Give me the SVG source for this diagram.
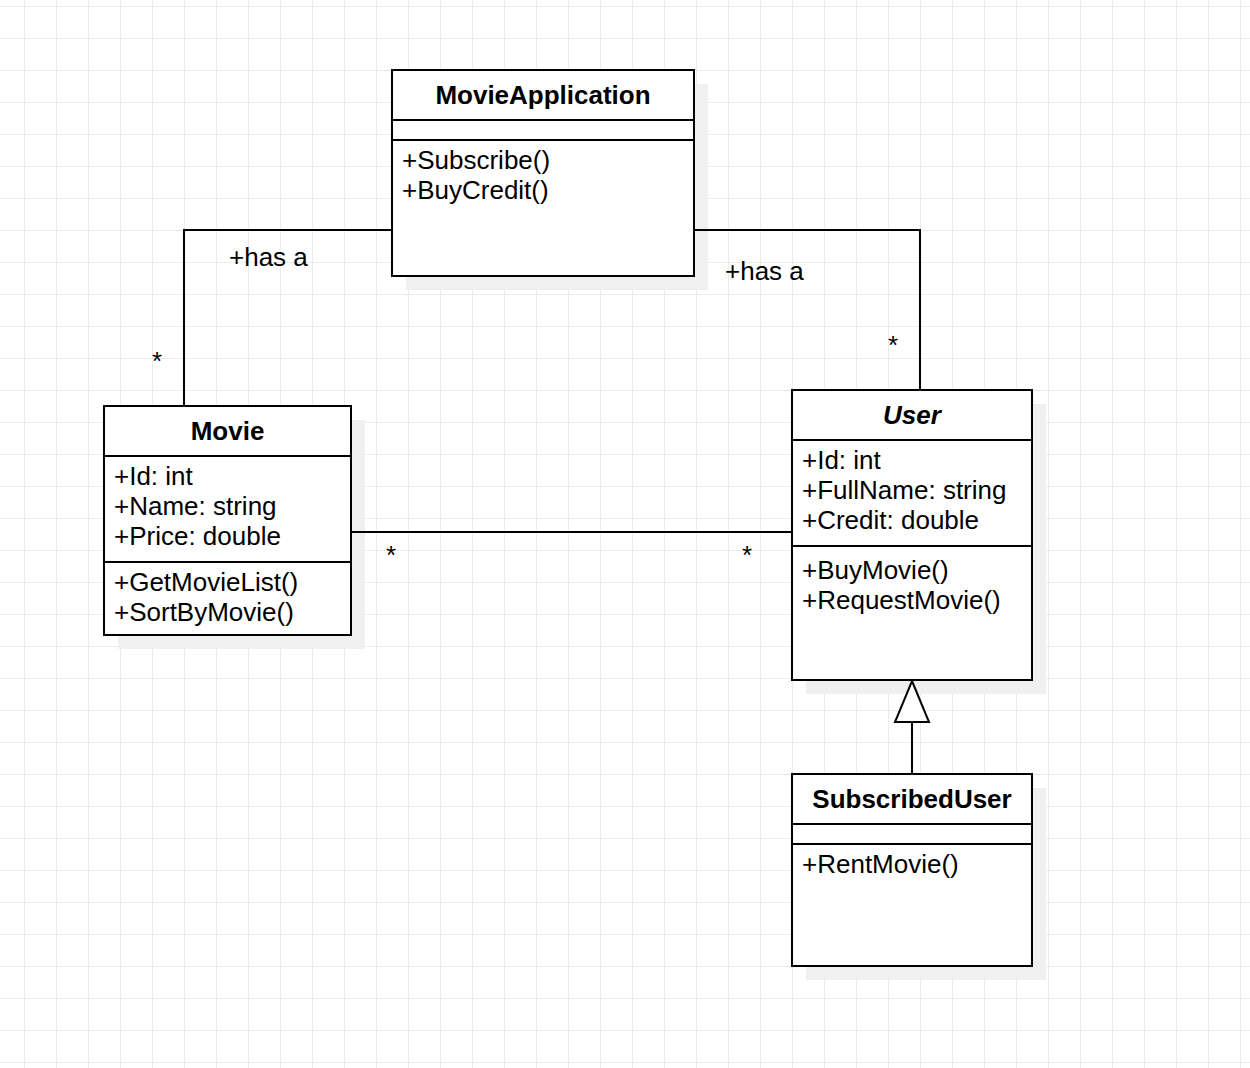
<svg xmlns="http://www.w3.org/2000/svg" width="1250" height="1068" viewBox="0 0 1250 1068">
  <style>
    .box { fill: #ffffff; stroke: #000000; stroke-width: 2; }
    .shadow { fill: #f0f0f0; stroke: none; }
    .sep { stroke: #000000; stroke-width: 2; fill: none; }
    .edge { stroke: #000000; stroke-width: 2; fill: none; }
    .head { stroke: #000000; stroke-width: 2; fill: #ffffff; }
    .title { font-family: "Liberation Sans", Arial, sans-serif; font-size: 26px; font-weight: bold; text-anchor: middle; fill: #000000; }
    .member { font-family: "Liberation Sans", Arial, sans-serif; font-size: 26px; fill: #000000; }
    .label { font-family: "Liberation Sans", Arial, sans-serif; font-size: 26px; fill: #000000; }
  </style>
  <defs>
    <pattern id="grid" patternUnits="userSpaceOnUse" x="24" y="6" width="32" height="32">
      <path d="M 0.5 0 V 32 M 0 0.5 H 32" stroke="#ebebeb" stroke-width="1" fill="none"/>
    </pattern>
  </defs>

  <!-- background grid -->
  <rect x="0" y="0" width="1250" height="1068" fill="#ffffff"/>
  <rect x="0" y="0" width="1250" height="1068" fill="url(#grid)"/>

  <!-- MovieApplication -->
  <g id="MovieApplication">
    <rect class="shadow" x="406" y="84" width="302" height="206"/>
    <rect class="box" x="392" y="70" width="302" height="206"/>
    <path class="sep" d="M 392 120 H 694 M 392 140 H 694"/>
    <text class="title" x="543" y="104">MovieApplication</text>
    <text class="member" x="402" y="169">+Subscribe()</text>
    <text class="member" x="402" y="199">+BuyCredit()</text>
  </g>

  <!-- Movie -->
  <g id="Movie">
    <rect class="shadow" x="118" y="420" width="247" height="229"/>
    <rect class="box" x="104" y="406" width="247" height="229"/>
    <path class="sep" d="M 104 456 H 351 M 104 562 H 351"/>
    <text class="title" x="227.5" y="440">Movie</text>
    <text class="member" x="114" y="485">+Id: int</text>
    <text class="member" x="114" y="515">+Name: string</text>
    <text class="member" x="114" y="545">+Price: double</text>
    <text class="member" x="114" y="591">+GetMovieList()</text>
    <text class="member" x="114" y="621">+SortByMovie()</text>
  </g>

  <!-- User -->
  <g id="User">
    <rect class="shadow" x="806" y="404" width="240" height="290"/>
    <rect class="box" x="792" y="390" width="240" height="290"/>
    <path class="sep" d="M 792 440 H 1032 M 792 546 H 1032"/>
    <text class="title" x="912" y="424" font-style="italic">User</text>
    <text class="member" x="802" y="469">+Id: int</text>
    <text class="member" x="802" y="499">+FullName: string</text>
    <text class="member" x="802" y="529">+Credit: double</text>
    <text class="member" x="802" y="579">+BuyMovie()</text>
    <text class="member" x="802" y="609">+RequestMovie()</text>
  </g>

  <!-- SubscribedUser -->
  <g id="SubscribedUser">
    <rect class="shadow" x="806" y="788" width="240" height="192"/>
    <rect class="box" x="792" y="774" width="240" height="192"/>
    <path class="sep" d="M 792 824 H 1032 M 792 844 H 1032"/>
    <text class="title" x="912" y="808">SubscribedUser</text>
    <text class="member" x="802" y="873">+RentMovie()</text>
  </g>

  <!-- associations and generalization, drawn over the node shadows -->
  <g id="connectors">
    <path class="edge" d="M 392 230 H 184 V 406"/>
    <text class="label" x="229" y="266">+has a</text>
    <text class="label" x="152" y="370">*</text>

    <path class="edge" d="M 694 230 H 920 V 390"/>
    <text class="label" x="725" y="280">+has a</text>
    <text class="label" x="888" y="354">*</text>

    <path class="edge" d="M 351 532 H 792"/>
    <text class="label" x="386" y="564">*</text>
    <text class="label" x="742" y="564">*</text>

    <path class="edge" d="M 912 774 V 722"/>
    <path class="head" d="M 912 681 L 929 722 H 895 Z"/>
  </g>
</svg>
